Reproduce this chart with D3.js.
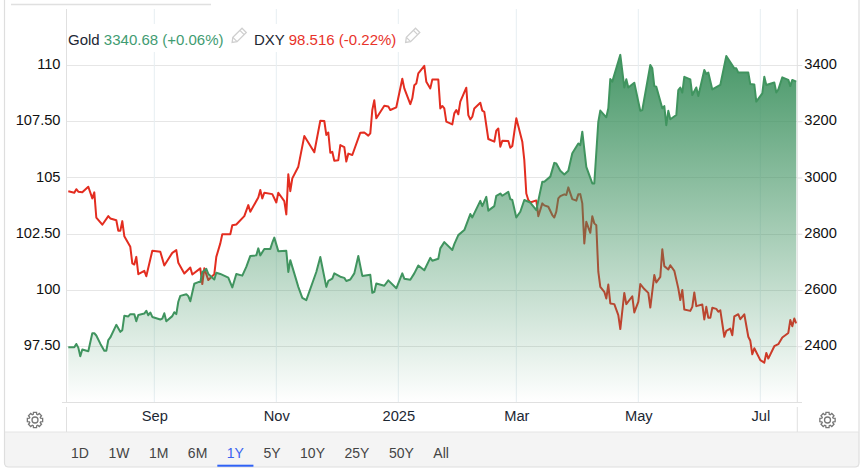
<!DOCTYPE html>
<html>
<head>
<meta charset="utf-8">
<title>Gold vs DXY</title>
<script src="https://d3js.org/d3.v7.min.js"></script>
<style>
 html, body { margin: 0; padding: 0; background: #fff; }
 svg { display: block; font-family: "Liberation Sans", Arial, sans-serif; }
 .axis path { display: none; }
 .axis text { font-size: 14.67px; font-family: "Liberation Sans", Arial, sans-serif; }
 .axis line { stroke: #e0e0e0; }
</style>
</head>
<body>
<div id="chart"></div>
<script>
//DATA - days are counted from 1 Sep 2024
var goldDays = [-43,-40,-39,-38,-37,-36,-33,-31,-30,-29,-27,-25,-24,-23,-22,-19,-17,-16,-15,-13,-12,-10,-9,-8,-5,-4,-3,-2,-1,3,4,5,6,9,10,11,12,13,16,17,18,20,22,23,24,26,27,30,31,33,37,39,41,44,46,48,51,52,53,55,58,59,60,62,66,67,68,71,72,74,76,81,83,86,87,89,90,93,95,96,98,100,102,104,108,109,110,111,115,117,121,124,125,128,130,132,135,138,139,142,143,145,149,150,152,155,158,159,163,164,166,167,170,171,173,174,177,178,179,181,183,185,188,191,194,195,198,200,201,203,205,207,209,212,213,214,216,219,220,222,223,226,227,228,229,233,235,236,237,240,243,244,248,249,250,251,254,255,256,257,258,261,262,263,264,265,268,269,271,272,275,276,277,279,283,286,290,291,292,297,298,300,301,304,305,306,310,311,312,314,317,318,319,321];
var goldValues = [2396,2396,2408,2395,2364,2388,2382,2446,2446,2438,2409,2384,2384,2422,2431,2476,2451,2457,2508,2506,2514,2514,2489,2511,2516,2526,2510,2520,2504,2495,2498,2517,2489,2507,2521,2514,2558,2579,2585,2578,2560,2622,2628,2628,2664,2675,2657,2637,2661,2657,2644,2609,2657,2651,2682,2721,2723,2748,2723,2746,2746,2768,2786,2738,2739,2664,2706,2635,2611,2572,2564,2664,2717,2611,2632,2640,2659,2647,2643,2632,2637,2659,2721,2650,2654,2590,2593,2623,2615,2634,2606,2659,2640,2636,2659,2687,2670,2714,2704,2711,2748,2770,2742,2763,2795,2813,2870,2858,2917,2898,2931,2882,2898,2935,2943,2935,2949,2923,2920,2858,2878,2920,2911,2884,2985,2985,3003,3052,3050,3024,3011,3024,3086,3121,3115,3163,3038,2979,2979,3198,3238,3214,3246,3350,3341,3436,3320,3349,3320,3337,3237,3240,3400,3388,3325,3323,3246,3254,3186,3237,3207,3222,3311,3320,3302,3358,3349,3293,3320,3290,3382,3368,3373,3313,3329,3432,3388,3388,3373,3373,3332,3331,3270,3299,3358,3329,3338,3302,3313,3356,3347,3325,3347,3341];
var dxyDays = [-43,-40,-39,-38,-36,-33,-31,-30,-29,-26,-23,-22,-19,-18,-17,-16,-15,-12,-11,-10,-9,-8,-5,-4,-1,3,5,9,11,12,15,18,19,23,24,25,27,30,31,33,34,38,39,41,45,47,48,52,53,54,55,59,61,62,65,66,67,68,69,72,75,80,83,85,86,87,88,89,90,92,93,95,96,97,99,103,105,107,108,109,110,111,115,117,118,121,124,125,128,129,130,131,132,135,136,138,139,142,143,144,145,146,149,150,151,152,153,156,157,158,159,160,163,164,165,167,170,171,172,173,174,177,178,179,181,184,185,186,187,188,191,192,194,195,197,199,200,201,202,203,205,206,207,209,211,212,213,214,215,216,218,219,220,221,222,223,225,226,227,228,230,232,233,235,236,239,240,242,243,245,247,248,250,251,253,254,255,257,258,260,262,263,264,265,268,269,270,271,274,275,276,277,278,279,281,282,283,284,285,286,288,289,290,292,293,295,297,298,299,300,303,305,306,307,310,312,314,317,318,319,320,321];
var dxyValues = [104.39,104.32,104.48,104.37,104.34,104.59,104.07,104.34,103.22,102.90,103.28,103.18,103.10,102.63,102.63,103.06,102.39,101.92,101.18,101.13,101.47,100.70,100.85,100.61,101.74,101.70,101.09,101.65,101.77,101.21,100.73,101.00,100.69,100.96,100.26,100.96,100.44,100.70,101.47,102.07,102.48,102.48,102.88,102.91,103.28,103.77,103.48,104.11,104.44,104.07,104.32,104.26,103.89,104.32,103.95,103.36,105.14,104.39,104.96,105.48,106.84,106.12,107.52,107.51,106.89,107.00,106.10,106.14,105.74,105.77,106.44,106.35,105.71,106.06,106.00,106.99,107.00,106.86,106.96,108.00,108.43,107.63,108.19,108.16,108.00,108.12,109.39,108.96,108.26,108.52,109.10,109.18,109.63,109.96,109.26,108.96,109.35,109.35,108.07,108.18,108.07,107.48,107.36,107.85,108.00,107.81,108.37,108.99,107.77,107.58,107.70,108.07,108.32,107.97,107.92,106.71,106.59,107.08,107.18,106.37,106.63,106.62,106.32,106.40,107.63,106.59,105.77,104.29,104.00,103.89,103.98,103.28,103.85,103.76,103.70,103.33,103.22,103.48,104.07,104.17,104.25,104.22,104.56,104.04,103.97,104.25,104.26,103.85,102.07,103.03,102.54,103.28,102.96,102.88,100.81,100.14,99.92,99.62,100.24,99.40,99.37,98.88,98.26,99.87,99.37,99.72,99.00,99.47,100.26,100.04,99.87,99.22,100.66,100.33,100.58,101.81,101.06,100.91,101.10,100.85,100.07,99.55,100.00,99.13,99.07,99.25,99.89,99.28,99.35,98.69,99.25,98.76,98.76,99.21,99.16,99.03,99.10,98.51,97.92,98.18,98.28,97.99,98.83,98.92,98.70,98.92,97.92,97.74,97.14,97.41,96.88,96.77,97.20,96.95,97.50,97.59,97.89,98.09,98.66,98.39,98.73,98.51];

var leftTicks = [97.5,100,102.5,105,107.5,110];
var leftLabels = ["97.50","100","102.50","105","107.50","110"];
var rightTicks = [2400,2600,2800,3000,3200,3400];
var xTickDays = [0,61,122,181,242,303];
var xTickLabels = ["Sep","Nov","2025","Mar","May","Jul"];
var rangeButtons = ["1D","1W","1M","6M","1Y","5Y","10Y","25Y","50Y","All"];
var activeButton = "1Y";

//Dimensions of Chart
var width = 865, height = 473;
var plot = {left: 66.5, right: 797.3, top: 9, bottom: 402};

var sep1 = Date.UTC(2024, 8, 1);
var toDate = d => d3.utcDay.offset(new Date(sep1), d);

var x = d3.scaleUtc().domain([toDate(-43), toDate(321)]).range([68.3, 796.3]);
var yLeft = d3.scaleLinear().domain([97.5, 110]).range([346.2, 65]);
var yRight = d3.scaleLinear().domain([2400, 3400]).range([346.2, 65]);

var gold = goldDays.map((d, i) => ({date: toDate(d), value: goldValues[i]}));
var dxy = dxyDays.map((d, i) => ({date: toDate(d), value: dxyValues[i]}));

var svg = d3.select("#chart").append("svg").attr("width", width).attr("height", height);

var grad = svg.append("defs").append("linearGradient").attr("id", "goldFill")
   .attr("gradientUnits", "userSpaceOnUse")
   .attr("x1", 0).attr("x2", 0).attr("y1", 55).attr("y2", plot.bottom);
grad.append("stop").attr("offset", 0).attr("stop-color", "#3e9260").attr("stop-opacity", 0.95);
grad.append("stop").attr("offset", 1).attr("stop-color", "#3e9260").attr("stop-opacity", 0);

//Card and footer
svg.append("line").attr("x1", 11).attr("x2", 211).attr("y1", 4.5).attr("y2", 4.5).attr("stroke", "#e0e0e0").attr("stroke-width", 1.5);
svg.append("rect").attr("x", 5).attr("y", 432).attr("width", 854).attr("height", 35).attr("fill", "#f4f4f4");
svg.append("path").attr("d", "M4.5,0V463a4,4 0 0 0 4,4H855a4,4 0 0 0 4,-4V0")
   .attr("fill", "none").attr("stroke", "#dedede").attr("stroke-width", 1.2);
svg.append("line").attr("x1", 5).attr("x2", 859).attr("y1", 432).attr("y2", 432).attr("stroke", "#e4e4e4");

//Grid
svg.append("g").selectAll("line").data(leftTicks).enter().append("line")
   .attr("x1", plot.left).attr("x2", plot.right)
   .attr("y1", d => Math.round(yLeft(d)) + 0.5).attr("y2", d => Math.round(yLeft(d)) + 0.5)
   .attr("stroke", "#e6e6e6");
svg.append("g").selectAll("line").data(xTickDays).enter().append("line")
   .attr("x1", d => x(toDate(d))).attr("x2", d => x(toDate(d)))
   .attr("y1", plot.top).attr("y2", plot.bottom)
   .attr("stroke", "#e6eef2");

//DXY goes below the gold area, so it turns brown where they overlap
var line = (y) => d3.line().x(d => x(d.date)).y(d => y(d.value));

svg.append("path").datum(dxy).attr("d", line(yLeft))
   .attr("fill", "none").attr("stroke", "#e32d20").attr("stroke-width", 2).attr("stroke-linejoin", "round");

svg.append("path").datum(gold)
   .attr("d", d3.area().x(d => x(d.date)).y0(plot.bottom).y1(d => yRight(d.value)))
   .attr("fill", "url(#goldFill)");

svg.append("path").datum(gold).attr("d", line(yRight))
   .attr("fill", "none").attr("stroke", "#40945f").attr("stroke-width", 2).attr("stroke-linejoin", "round");

//Axes
var leftAxis = svg.append("g").attr("class", "axis").attr("transform", "translate(" + plot.left + ",0)")
   .call(d3.axisLeft(yLeft).tickValues(leftTicks).tickFormat((d, i) => leftLabels[i]).tickSize(0).tickPadding(6));
leftAxis.selectAll("text").attr("fill", "#111").attr("dy", "0.25em");

var rightAxis = svg.append("g").attr("class", "axis").attr("transform", "translate(" + plot.right + ",0)")
   .call(d3.axisRight(yRight).tickValues(rightTicks).tickFormat(d3.format("d")).tickSize(5).tickPadding(2));
rightAxis.selectAll("text").attr("fill", "#111").attr("dy", "0.25em");

var bottomAxis = svg.append("g").attr("class", "axis").attr("transform", "translate(0," + plot.bottom + ")")
   .call(d3.axisBottom(x).tickValues(xTickDays.map(toDate)).tickFormat((d, i) => xTickLabels[i]).tickSize(0).tickPadding(9));
bottomAxis.selectAll("text").attr("fill", "#1c2733");

//Frame lines of the plot
var frame = [[plot.left, plot.left, plot.top, plot.bottom], [plot.right, plot.right, plot.top, plot.bottom],
             [plot.left, plot.left, 407, 432], [plot.right, plot.right, 407, 432],
             [62, 802, plot.bottom + 0.5, plot.bottom + 0.5]];
svg.append("g").selectAll("line").data(frame).enter().append("line")
   .attr("x1", d => d[0]).attr("x2", d => d[1]).attr("y1", d => d[2]).attr("y2", d => d[3])
   .attr("stroke", "#e0e0e0");

//Legend
svg.append("rect").attr("x", 67.5).attr("y", 24).attr("width", 358).attr("height", 28).attr("fill", "#fff");
function legend(xPos, name, quote, colour) {
  var t = svg.append("text").attr("x", xPos).attr("y", 45).attr("font-size", 15);
  t.append("tspan").attr("fill", "#1c2733").text(name + " ");
  t.append("tspan").attr("fill", colour).text(quote);
}
legend(68, "Gold", "3340.68 (+0.06%)", "#3f9c72");
legend(254, "DXY", "98.516 (-0.22%)", "#e8332a");

function pencil(cx, cy) {
  var g = svg.append("g").attr("transform", "translate(" + cx + "," + cy + ") rotate(45)")
     .attr("fill", "none").attr("stroke", "#cfcfcf").attr("stroke-width", 1.3);
  g.append("path").attr("d", "M-3,-8H3V5L0,9L-3,5Z");
  g.append("path").attr("d", "M-3,-5H3M-3,5H3");
}
pencil(238.5, 36);
pencil(412, 36);

//Gear icons
function gear(cx, cy) {
  var pts = [];
  for (var i = 0; i < 8; i++) {
    var a = i * Math.PI / 4;
    [[-0.3, 5.9], [-0.2, 7.8], [0.2, 7.8], [0.3, 5.9]].forEach(p => {
      pts.push([cx + p[1] * Math.sin(a + p[0]), cy - p[1] * Math.cos(a + p[0])]);
    });
  }
  svg.append("path").attr("d", d3.line().curve(d3.curveLinearClosed)(pts))
     .attr("fill", "none").attr("stroke", "#777").attr("stroke-width", 1.3);
  svg.append("circle").attr("cx", cx).attr("cy", cy).attr("r", 3)
     .attr("fill", "none").attr("stroke", "#777").attr("stroke-width", 1.3);
}
gear(35, 420);
gear(827.5, 420);

//Range buttons
var cursor = 71;
rangeButtons.forEach(function(label) {
  var active = label == activeButton;
  var t = svg.append("text").attr("x", cursor).attr("y", 458).attr("font-size", 14)
     .attr("fill", active ? "#3b63f0" : "#444").text(label);
  var w = t.node().getComputedTextLength();
  if (active) {
    svg.append("rect").attr("x", cursor - 9.5).attr("y", 464.7).attr("width", w + 19).attr("height", 2).attr("fill", "#2f62f5");
  }
  cursor += w + 19.5;
});
</script>
</body>
</html>
